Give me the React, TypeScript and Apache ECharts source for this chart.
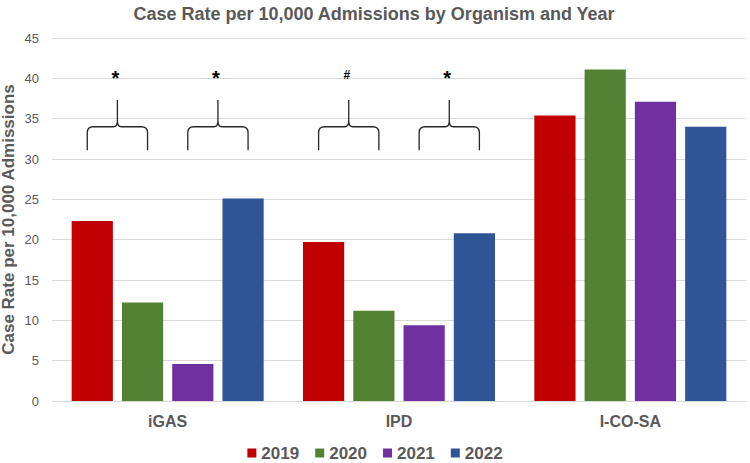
import React, { useEffect, useRef } from "react";
import * as echarts from "echarts";

const categories = ["iGAS", "IPD", "I-CO-SA"];
const years = ["2019", "2020", "2021", "2022"];
const v2019 = [22.3, 19.7, 35.4];
const v2020 = [12.2, 11.2, 41.1];
const v2021 = [4.6, 9.4, 37.1];
const v2022 = [25.1, 20.8, 34.0];
const colors = ["#C00000", "#548235", "#7030A0", "#2F5597"];

// Significance annotations: [category index, first bar, last bar, marker]
const braceCats = [0, 0, 1, 1];
const braceFrom = [0, 2, 0, 2];
const braceTo = [1, 3, 1, 3];
const braceMarks = ["*", "*", "#", "*"];
const braceBottom = 31.1;
const braceShoulder = 34.0;
const bracePeak = 37.3;
const markLevel = 40.5;

const BAR_CAT_GAP = 0.17;
const BAR_GAP = 0.22;

export default function App() {
  const ref = useRef<HTMLDivElement>(null);
  useEffect(() => {
    document.body.style.margin = "0";
    if (!ref.current) return;
    const chart = echarts.init(ref.current, undefined, { renderer: "svg" });
    const seriesVals = [v2019, v2020, v2021, v2022];
    const barSeries = years.map((y, i) => ({
      name: y,
      type: "bar",
      data: seriesVals[i],
      itemStyle: { color: colors[i] },
      barGap: `${BAR_GAP * 100}%`,
      barCategoryGap: `${BAR_CAT_GAP * 100}%`,
    }));
    const braceData = braceCats.map((c, i) => [c, markLevel, braceFrom[i], braceTo[i], braceMarks[i]]);
    const braceSeries = {
      type: "custom",
      data: braceData,
      silent: true,
      clip: false,
      z: 5,
      renderItem: (params: any, api: any) => {
        const cat = api.value(0);
        const from = api.value(2);
        const to = api.value(3);
        const mark = braceData[params.dataIndex][4] as string;
        const center = api.coord([cat, 0])[0];
        const bandW = api.size([1, 0])[0];
        const avail = bandW * (1 - BAR_CAT_GAP);
        const bw = avail / (4 + 3 * BAR_GAP);
        const barC = (k: number) => center - avail / 2 + k * bw * (1 + BAR_GAP) + bw / 2;
        const x0 = barC(from) - 5;
        const x1 = barC(to) + 5;
        const xm = (x0 + x1) / 2;
        const yb = api.coord([cat, braceBottom])[1];
        const ys = api.coord([cat, braceShoulder])[1];
        const yp = api.coord([cat, bracePeak])[1];
        const ym = api.coord([cat, markLevel])[1];
        const d =
          `M${x0},${yb} L${x0},${ys + 6} Q${x0},${ys} ${x0 + 6},${ys} L${xm - 4},${ys} Q${xm},${ys} ${xm},${ys - 6} L${xm},${yp} ` +
          `M${xm},${ys - 6} Q${xm},${ys} ${xm + 4},${ys} L${x1 - 6},${ys} Q${x1},${ys} ${x1},${ys + 6} L${x1},${yb}`;
        return {
          type: "group",
          children: [
            {
              type: "path",
              shape: { pathData: d },
              style: { stroke: "#262626", fill: "none", lineWidth: 1.3 },
            },
            {
              type: "text",
              style: {
                text: mark,
                x: xm - 2,
                y: mark === "#" ? ym + 1 : ym + 4,
                align: "center",
                verticalAlign: "middle",
                fill: "#000",
                font: mark === "#" ? "bold 12px 'Liberation Sans'" : "bold 20px 'Liberation Sans'",
              },
            },
          ],
        };
      },
    };
    chart.setOption({
      animation: false,
      textStyle: { fontFamily: "'Liberation Sans', Arial, sans-serif" },
      title: {
        text: "Case Rate per 10,000 Admissions by Organism and Year",
        left: 369,
        textAlign: "center",
        top: 0,
        textStyle: { color: "#595959", fontSize: 18, fontWeight: "bold" },
      },
      grid: { left: 52, right: 4, top: 38, bottom: 62, containLabel: false, outerBoundsMode: "none" },
      legend: {
        data: years,
        top: 439,
        left: "center",
        itemWidth: 9,
        itemHeight: 9,
        itemGap: 16,
        icon: "rect",
        textStyle: { color: "#595959", fontSize: 17, fontWeight: "bold", lineHeight: 18 },
      },
      xAxis: {
        type: "category",
        data: categories,
        axisLine: { show: true, lineStyle: { color: "#D9D9D9" } },
        axisTick: { show: false },
        axisLabel: { color: "#595959", fontSize: 16, fontWeight: "bold", margin: 12 },
      },
      yAxis: {
        type: "value",
        min: 0,
        max: 45,
        interval: 5,
        name: "Case Rate per 10,000 Admissions",
        nameLocation: "middle",
        nameGap: 35,
        nameMoveOverlap: false,
        nameTextStyle: { color: "#595959", fontSize: 17, fontWeight: "bold" },
        axisLine: { show: false },
        axisTick: { show: false },
        axisLabel: { color: "#595959", fontSize: 13, margin: 13 },
        splitLine: { lineStyle: { color: "#D9D9D9" } },
      },
      series: [...barSeries, braceSeries],
    });
    return () => chart.dispose();
  }, []);
  return <div ref={ref} style={{ width: 750, height: 463 }} />;
}
